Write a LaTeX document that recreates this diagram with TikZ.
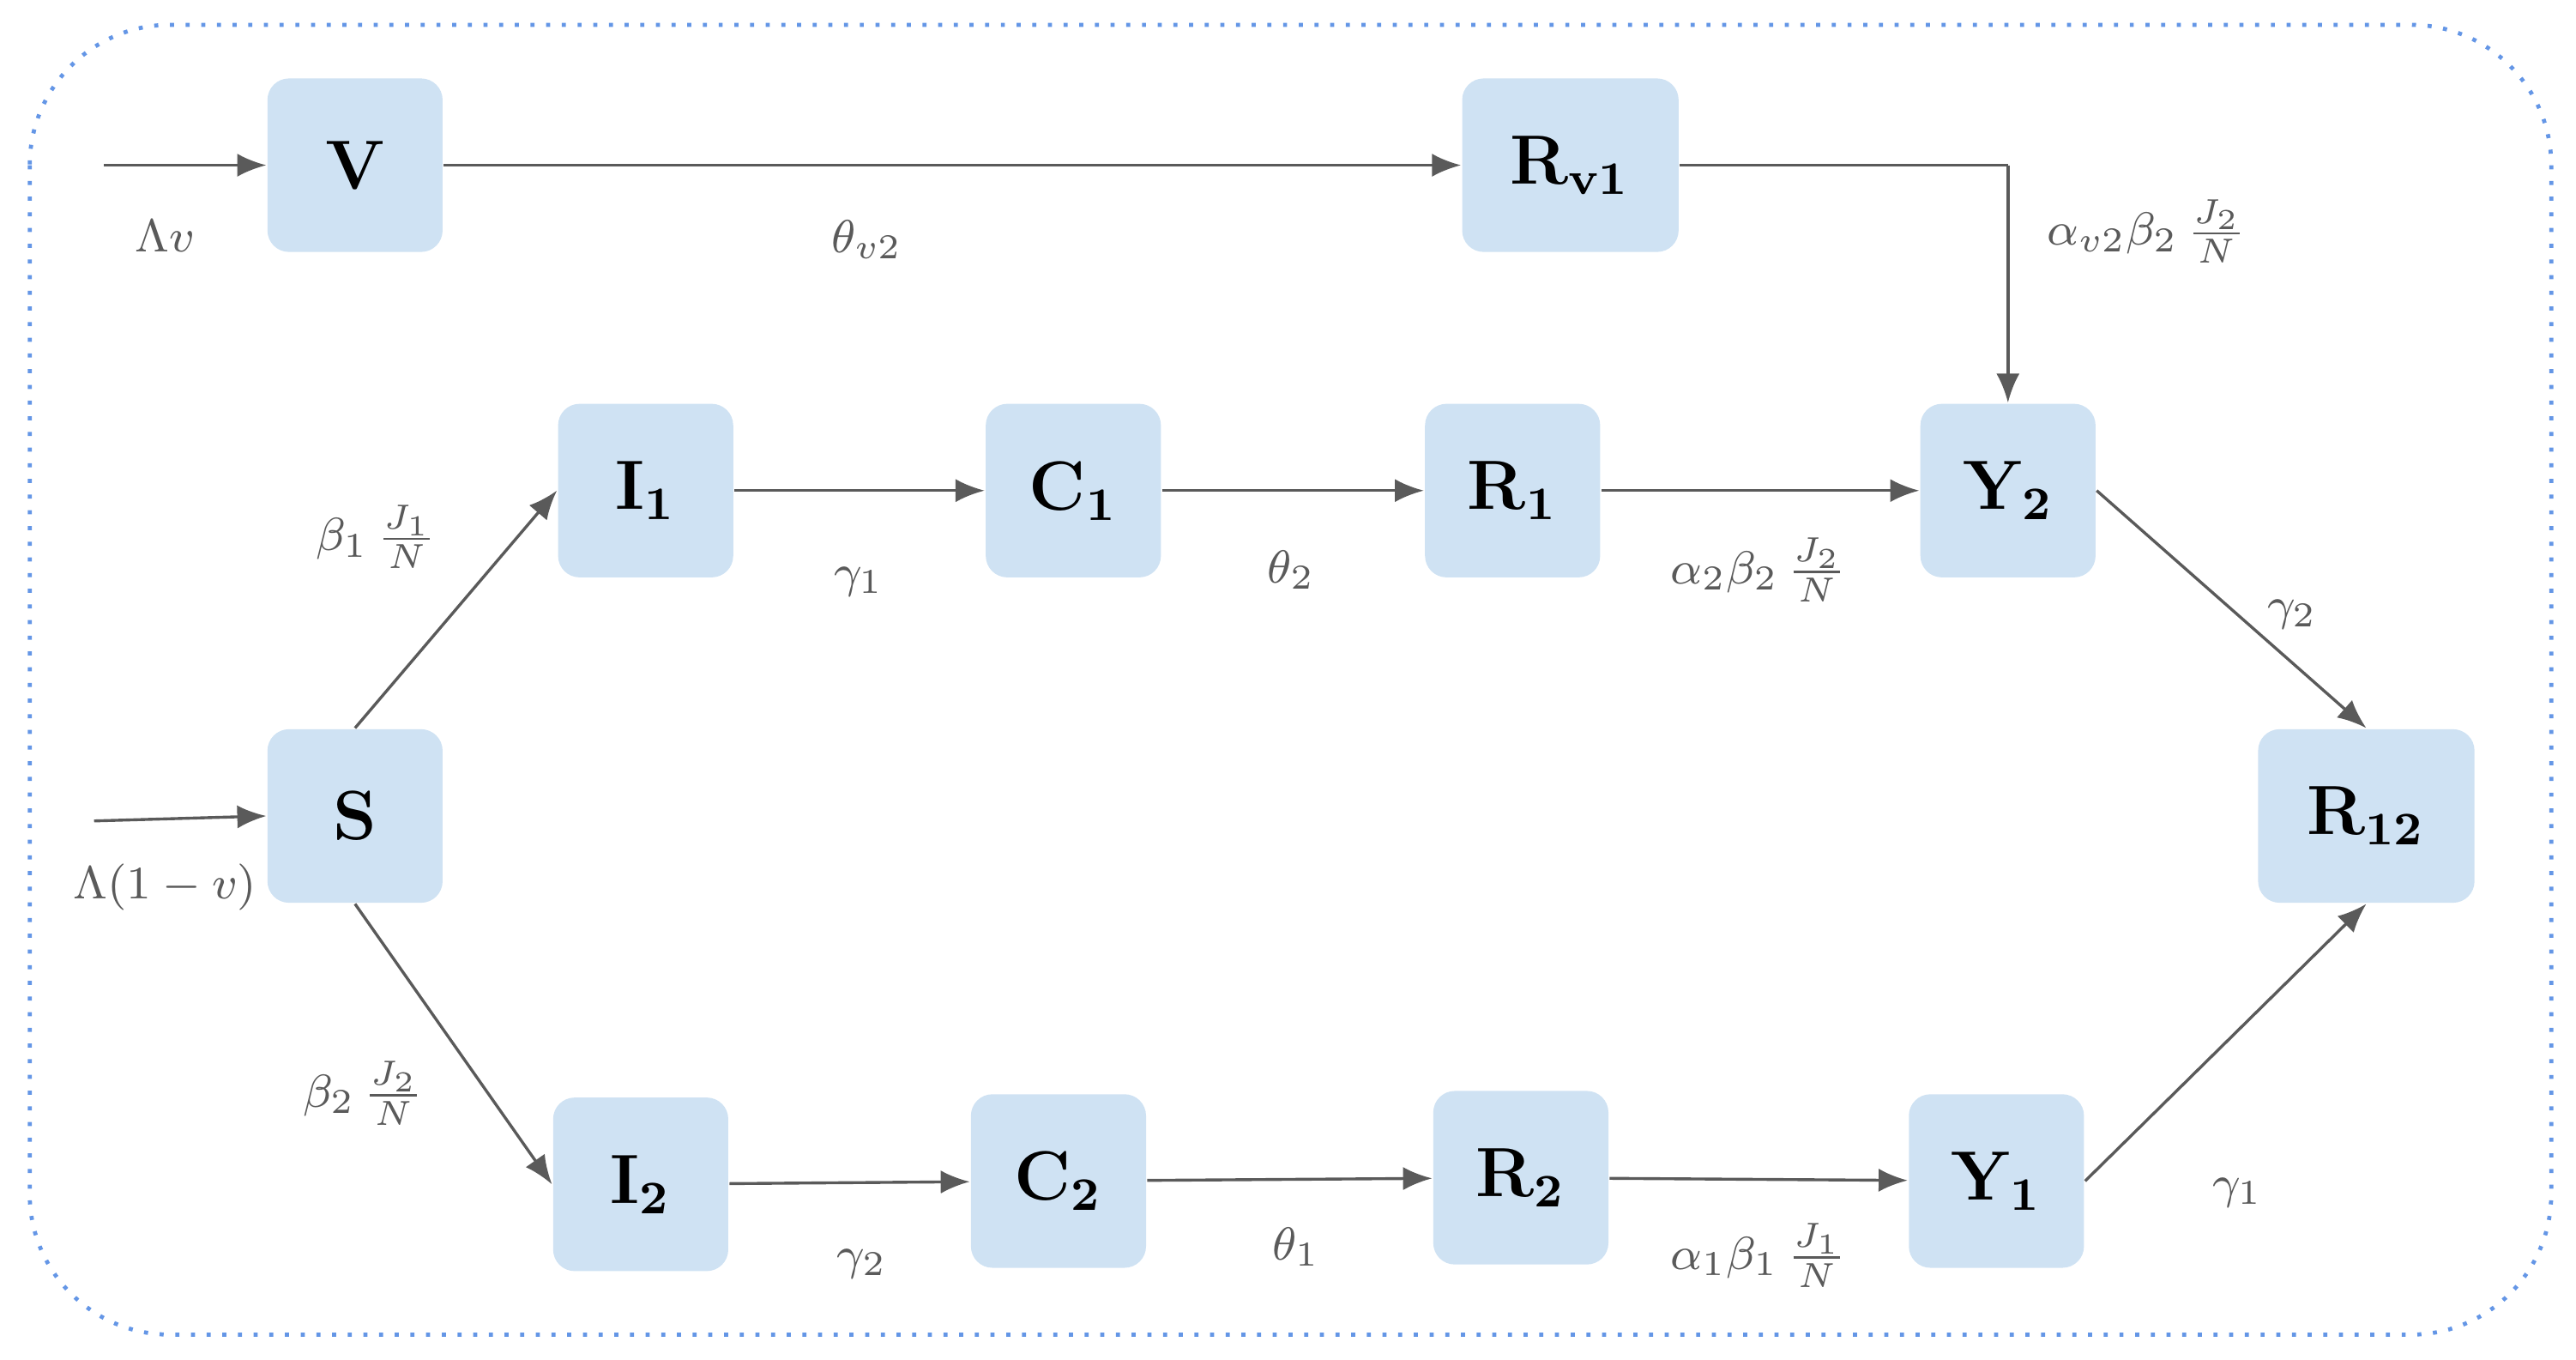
\documentclass[tikz,border=0pt]{standalone}
\usetikzlibrary{arrows.meta}
\definecolor{boxfill}{RGB}{207,226,243}
\definecolor{edgec}{RGB}{90,90,90}
\definecolor{framec}{RGB}{100,150,230}
\begin{document}
\begin{tikzpicture}[x=0.01cm,y=-0.01cm,
  box/.style={fill=boxfill,rounded corners=0.13cm,minimum width=1.06cm,minimum height=1.05cm,inner sep=0pt,font=\fontsize{12}{14}\selectfont\bfseries},
  wbox/.style={box,minimum width=1.31cm},
  flow/.style={draw=edgec,line width=0.5pt,-{Latex[length=5pt,width=4pt]}},
  lab/.style={text=edgec,font=\fontsize{8}{10}\selectfont,inner sep=1pt}]
\useasboundingbox (0,0) rectangle (1560,823);
\draw[framec,dotted,line width=0.7pt,rounded corners=0.85cm] (18,15) rectangle (1545,808);
\node[box] (V) at (215,100) {V};
\node[wbox] (Rv) at (951,100) {R$_{\mathbf{v1}}$};
\node[box] (I1) at (391,297) {I$_{\mathbf 1}$};
\node[box] (C1) at (650,297) {C$_{\mathbf 1}$};
\node[box] (R1) at (916,297) {R$_{\mathbf 1}$};
\node[box] (Y2) at (1216,297) {Y$_{\mathbf 2}$};
\node[box] (S) at (215,494) {S};
\node[wbox] (R12) at (1433,494) {R$_{\mathbf{12}}$};
\node[box] (I2) at (388,717) {I$_{\mathbf 2}$};
\node[box] (C2) at (641,715) {C$_{\mathbf 2}$};
\node[box] (R2) at (921,713) {R$_{\mathbf 2}$};
\node[box] (Y1) at (1209,715) {Y$_{\mathbf 1}$};
\coordinate (inV) at (63,100);
\coordinate (inS) at (57,497);
\coordinate (corner) at (1216,100);
\draw[flow] (inV) -- (V);
\draw[flow] (inS) -- (S.west);
\draw[flow] (V) -- (Rv);
\draw[draw=edgec,line width=0.5pt] (Rv.east) -- (corner);
\draw[flow] (corner) -- (Y2.north);
\draw[flow] (S.north) -- (I1.west);
\draw[flow] (S.south) -- (I2.west);
\draw[flow] (I1) -- (C1);
\draw[flow] (C1) -- (R1);
\draw[flow] (R1) -- (Y2);
\draw[flow] (I2) -- (C2);
\draw[flow] (C2) -- (R2);
\draw[flow] (R2) -- (Y1);
\draw[flow] (Y2.east) -- (R12.north);
\draw[flow] (Y1.east) -- (R12.south);
\node[lab] (l1) at (100,143) {$\Lambda v$};
\node[lab] (l2) at (100,537) {$\Lambda(1-v)$};
\node[lab] (l3) at (525,145) {$\theta_{v2}$};
\node[lab] (l4) at (1300,140) {$\alpha_{v2}\beta_2\,\frac{J_2}{N}$};
\node[lab] (l5) at (228,325) {$\beta_1\,\frac{J_1}{N}$};
\node[lab] (l6) at (220,662) {$\beta_2\,\frac{J_2}{N}$};
\node[lab] (l7) at (520,352) {$\gamma_1$};
\node[lab] (l8) at (782,345) {$\theta_2$};
\node[lab] (l9) at (1065,345) {$\alpha_2\beta_2\,\frac{J_2}{N}$};
\node[lab] (l10) at (1388,372) {$\gamma_2$};
\node[lab] (l11) at (522,765) {$\gamma_2$};
\node[lab] (l12) at (785,755) {$\theta_1$};
\node[lab] (l13) at (1065,760) {$\alpha_1\beta_1\,\frac{J_1}{N}$};
\node[lab] (l14) at (1355,722) {$\gamma_1$};
\end{tikzpicture}
\end{document}
